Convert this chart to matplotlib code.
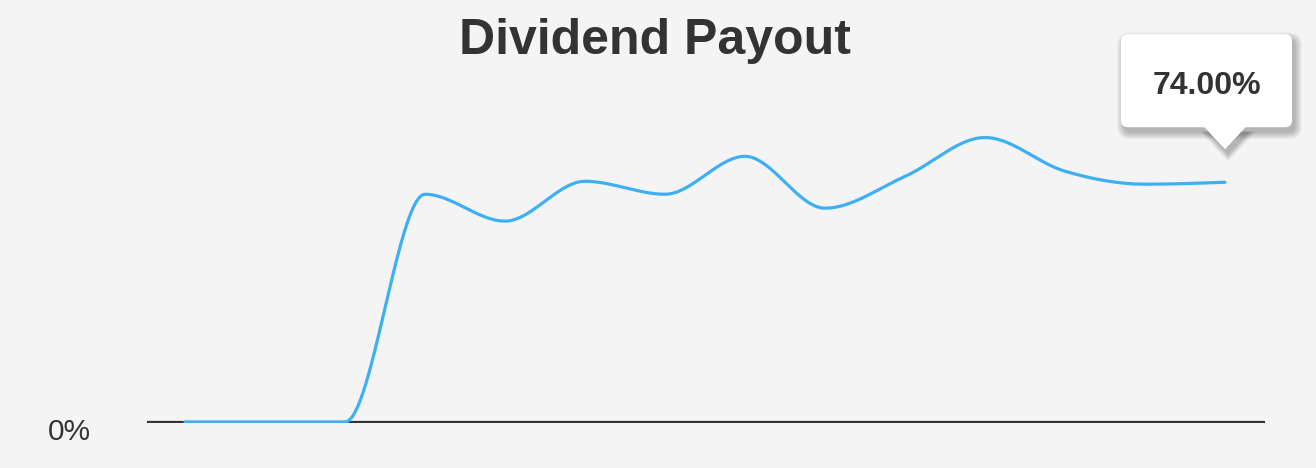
import numpy as np
import matplotlib.pyplot as plt
from matplotlib.patches import FancyBboxPatch, Polygon

# data (dividend payout, %)
periods = np.arange(14)
payout = [0, 0, 0, 70.3, 62.0, 74.3, 70.3, 82.0, 66.0, 75.8, 87.8, 77.4, 73.4, 74.0]
y_ticks = [0]
y_tick_labels = ['0%']
last_label = '74.00%'

bg = '#f4f4f4'
blue = '#3eaff4'
dark = '#333333'


# monotone cubic (same idea as d3 curveMonotoneX) for the smooth line
def monotone_curve(x, y, n=40):
    x = np.asarray(x, float)
    y = np.asarray(y, float)
    h = np.diff(x)
    s = np.diff(y) / h
    m = np.zeros(len(x))
    for i in range(1, len(x) - 1):
        s0, s1 = s[i - 1], s[i]
        p = (s0 * h[i] + s1 * h[i - 1]) / (h[i - 1] + h[i])
        m[i] = (np.sign(s0) + np.sign(s1)) * min(abs(s0), abs(s1), 0.5 * abs(p))
    m[0] = (3 * s[0] - m[1]) / 2
    m[-1] = (3 * s[-1] - m[-2]) / 2
    xs, ys = [], []
    for i in range(len(x) - 1):
        t = np.linspace(0, 1, n)
        h00 = 2 * t**3 - 3 * t**2 + 1
        h10 = t**3 - 2 * t**2 + t
        h01 = -2 * t**3 + 3 * t**2
        h11 = t**3 - t**2
        xs.append(x[i] + t * h[i])
        ys.append(h00 * y[i] + h10 * h[i] * m[i] + h01 * y[i + 1] + h11 * h[i] * m[i + 1])
    return np.concatenate(xs), np.concatenate(ys)


W, H = 1316, 468
fig = plt.figure(figsize=(W / 100, H / 100), dpi=100, facecolor=bg)
ax = fig.add_axes([147 / W, (H - 423) / H, (1265 - 147) / W, (423 - 98) / H])
ax.set_facecolor(bg)

cx, cy = monotone_curve(periods, payout)
ax.plot(cx, cy, color=blue, lw=2.3, solid_capstyle='round', zorder=3)
ax.axhline(0, color=dark, lw=1.6, zorder=2)

ax.set_xlim(-0.475, 13.5)
ax.set_ylim(-0.3, 100)
for sp in ax.spines.values():
    sp.set_visible(False)
ax.set_xticks([])
ax.set_yticks([])

# y tick labels sit a little below their gridline in the original
for v, lab in zip(y_ticks, y_tick_labels):
    ax.annotate(lab, xy=(0, v), xycoords=('axes fraction', 'data'),
                xytext=(-56, -10), textcoords='offset pixels', ha='right', va='center',
                fontsize=21.5, color=dark, family='Liberation Sans')

fig.text(655 / W, 1 - 54 / H, 'Dividend Payout', ha='center', va='baseline',
         fontsize=36, fontweight='bold', color=dark, family='Liberation Sans')

# tooltip over the last point, in pixel space
fig.canvas.draw()
px, py = ax.transData.transform((periods[-1], payout[-1]))
tip_y = py + 33
bx0, bx1 = px - 104, px + 67
by0, by1 = tip_y + 22, tip_y + 115


def tooltip(dx, dy, grow, fc, alpha, z):
    box = FancyBboxPatch((bx0 + dx - grow, by0 + dy - grow),
                         bx1 - bx0 + 2 * grow, by1 - by0 + 2 * grow,
                         boxstyle='round,pad=0,rounding_size=%g' % (7 + grow),
                         transform=None, fc=fc, ec='none', alpha=alpha, zorder=z)
    tri = Polygon([(px - 21 + dx - grow, by0 + dy + 0.5), (px + 21 + dx + grow, by0 + dy + 0.5),
                   (px + dx, tip_y + dy - grow)], closed=True, transform=None,
                  fc=fc, ec='none', alpha=alpha, zorder=z)
    fig.patches.extend([box, tri])


for k in range(8):
    tooltip(3, -5, 7 - k, 'black', 0.035, 5)
tooltip(0, 0, 0, 'white', 1, 6)
fig.text((bx0 + bx1) / 2 / W, (by0 + 33) / H, last_label,
         ha='center', va='baseline', fontsize=23, fontweight='bold', color=dark,
         family='Liberation Sans', zorder=7)

fig.savefig('out.png', dpi=100, facecolor=bg)
